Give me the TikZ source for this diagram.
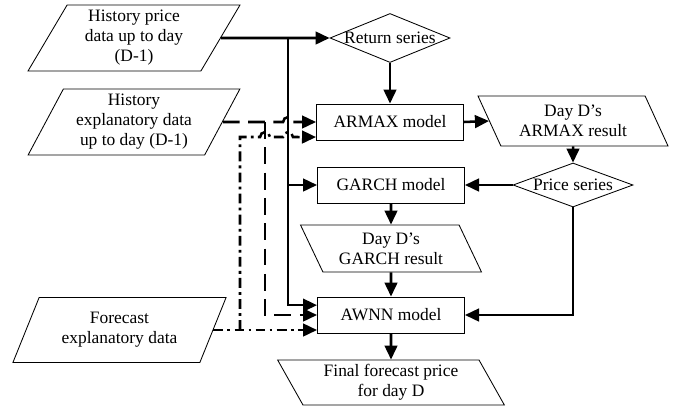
\documentclass[tikz,border=0pt]{standalone}
\usepackage{fontspec}
\setmainfont{Liberation Serif}
\usetikzlibrary{shapes.geometric,arrows.meta}

\begin{document}
\begin{tikzpicture}[x=0.025cm, y=-0.025cm,
    font=\fontsize{12.4}{14.2}\selectfont,
    model/.style={draw, line width=0.6pt, minimum width=3.675cm, minimum height=0.9cm, inner sep=2pt},
    datain/.style={draw, line width=0.6pt, trapezium, trapezium left angle=63, trapezium right angle=117, trapezium stretches=true, align=center, inner sep=1pt},
    dataout/.style={datain, trapezium left angle=117, trapezium right angle=63},
    series/.style={draw, line width=0.6pt, diamond, aspect=2.5, inner xsep=-3pt, inner ysep=0pt, minimum width=3cm},
    flow/.style={line width=1.8pt, -{Triangle[length=10pt,width=9pt]}},
    dashflow/.style={flow, dash pattern=on 12pt off 6pt},
    ddflow/.style={flow, dash pattern=on 7pt off 3pt on 2pt off 3pt},
]
\useasboundingbox (0,0) rectangle (676,409);

% inputs
\node[datain, minimum width=5.3cm, minimum height=1.65cm] (hprice) at (134,38) {History price\\data up to day\\(D-1)};
\node[datain, minimum width=5.3cm, minimum height=1.65cm] (hexp) at (134,122) {History\\explanatory data\\up to day (D-1)};
\node[datain, minimum width=5.33cm, minimum height=1.625cm] (fcexp) at (119.5,330) {Forecast\\explanatory data};

% models and series
\node[series, minimum height=1.225cm] (retser) at (390,38) {Return series};
\node[model] (armax) at (390,122) {ARMAX model};
\node[dataout, minimum width=4.75cm, minimum height=1.25cm] (armaxres) at (573,121) {Day D’s\\ARMAX result};
\node[series, minimum height=1.1cm] (priceser) at (573,185) {Price series};
\node[model] (garch) at (391,185) {GARCH model};
\node[dataout, minimum width=4.525cm, minimum height=1.175cm] (garchres) at (391,248.5) {Day D’s\\GARCH result};
\node[model] (awnn) at (391,315) {AWNN model};
\node[dataout, minimum width=5.675cm, minimum height=1.125cm] (final) at (391,382.5) {Final forecast price\\for day D};

\coordinate (hpjoin) at (288,38);
\coordinate (hejoin) at (265,122);
\coordinate (fcjoin) at (240,330);

% solid flow
\draw[flow] (hprice.east) -- (retser.west);
\draw[flow] (hpjoin) |- ([yshift=7pt]awnn.west);
\draw[flow] (hpjoin |- garch.west) -- (garch.west);
\draw[flow] (retser.south) -- (armax.north);
\draw[flow] (armax.east) -- (armaxres.west);
\draw[flow] (armaxres.south) -- (priceser.north);
\draw[flow] (priceser.west) -- (garch.east);
\draw[flow] (garch.south) -- (garchres.north);
\draw[flow] (garchres.south) -- (awnn.north);
\draw[flow] (awnn.south) -- (final.north);
\draw[flow] (priceser.south) |- (awnn.east);

% history explanatory data
\draw[dashflow] (hexp.east) -- (283.1,122) arc[start angle=180, end angle=0, radius=3.5pt] -- (armax.west);
\draw[dashflow] (hejoin) |- (awnn.west);

% forecast explanatory data
\draw[ddflow] (fcexp.east) -- (awnn.west |- fcexp.east);
\draw[ddflow] (fcjoin) -- (240,137) -- (260.1,137) arc[start angle=180, end angle=0, radius=3.5pt]
  -- (283.1,137) arc[start angle=180, end angle=0, radius=3.5pt] -- ([yshift=-10.7pt]armax.west);
\end{tikzpicture}
\end{document}
